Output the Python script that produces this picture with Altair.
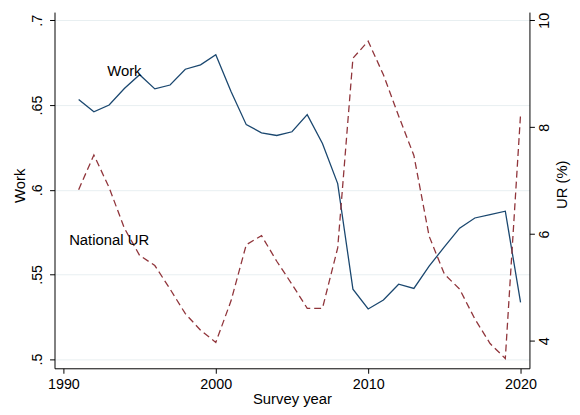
import pandas as pd
import altair as alt

# survey years and the two series
years = list(range(1991, 2021))
work = [0.6533, 0.6460, 0.6500, 0.6597, 0.6679, 0.6595, 0.6618, 0.6711, 0.6737, 0.6797,
        0.6580, 0.6384, 0.6336, 0.6320, 0.6342, 0.6443, 0.6273, 0.6036, 0.5413, 0.5296,
        0.5349, 0.5442, 0.5417, 0.5549, 0.5662, 0.5773, 0.5833, 0.5853, 0.5873, 0.5335]
ur = [6.83, 7.48, 6.87, 6.11, 5.60, 5.41, 4.97, 4.51, 4.20, 3.97,
      4.75, 5.80, 5.97, 5.49, 5.06, 4.61, 4.61, 5.74, 9.29, 9.61,
      8.98, 8.21, 7.47, 5.96, 5.25, 4.97, 4.41, 3.95, 3.67, 8.24]

# in-plot labels (left-axis coordinates)
label_text = ['Work', 'National UR']
label_x = [1994, 1993]
label_y = [0.67, 0.57]

work_ticks = [0.5, 0.55, 0.6, 0.65, 0.7]
ur_ticks = [4, 6, 8, 10]
year_ticks = [1990, 2000, 2010, 2020]

df = pd.DataFrame({'year': years, 'work': work, 'ur': ur})
labels = pd.DataFrame({'year': label_x, 'work': label_y, 'label': label_text})

NAVY = '#1a476f'
MAROON = '#90353b'
FONT = 'Liberation Sans'

x_enc = alt.X(
    'year:Q',
    scale=alt.Scale(domain=[1989.416, 2020.584], nice=False, zero=False),
    axis=alt.Axis(
        values=year_ticks, format='d', title='Survey year', grid=False,
        labelAngle=0, labelFlush=False, labelPadding=11.5,
        labelBaseline='middle', titleX=240, titleY=31, titleBaseline='middle',
    ),
)

work_domain = [0.49457, 0.70485]

work_line = (
    alt.Chart(df)
    .mark_line(color=NAVY, strokeWidth=1.3)
    .encode(
        x=x_enc,
        y=alt.Y(
            'work:Q', scale=alt.Scale(domain=work_domain, nice=False, zero=False),
            axis=alt.Axis(
                values=work_ticks, title='Work', orient='left',
                labelExpr="substring(format(datum.value, '.2~f'), 1)",
                labelAngle=270, labelAlign='center', labelBaseline='middle',
                labelPadding=12, grid=True, gridColor='#e8eff1', gridWidth=1,
                titleAngle=270, titleX=-35.5, titleY=175,
                titleAlign='center', titleBaseline='middle',
            ),
        ),
    )
)

ur_line = (
    alt.Chart(df)
    .mark_line(color=MAROON, strokeWidth=1.3, strokeDash=[7, 4])
    .encode(
        x=x_enc,
        y=alt.Y(
            'ur:Q',
            scale=alt.Scale(domain=[3.487, 10.154], nice=False, zero=False),
            axis=alt.Axis(
                values=ur_ticks, format='d', title='UR (%)', orient='right',
                labelAngle=270, labelAlign='center', labelBaseline='middle',
                labelPadding=10.3, grid=False,
                titleAngle=270, titleX=32.5, titleY=174,
                titleAlign='center', titleBaseline='middle',
            ),
        ),
    )
)

text_layer = (
    alt.Chart(labels)
    .mark_text(font=FONT, fontSize=15, color='black', align='center', baseline='middle')
    .encode(
        x='year:Q',
        y=alt.Y('work:Q', scale=alt.Scale(domain=work_domain, nice=False, zero=False),
                axis=None),
        text='label:N',
    )
)

chart = (
    alt.layer(work_line, ur_line, text_layer)
    .resolve_scale(y='independent')
    .properties(
        width=480, height=360,
        autosize=alt.AutoSizeParams(type='none'),
        padding={'left': 47, 'top': 2, 'right': 43, 'bottom': 38},
    )
    .configure(font=FONT)
    .configure_view(strokeWidth=0)
    .configure_axis(
        domainColor='black', domainWidth=1, tickColor='black', tickSize=5,
        labelColor='black', titleColor='black', labelFontSize=14.5,
        titleFontSize=15, titleFontWeight='normal', labelFont=FONT, titleFont=FONT,
    )
)

chart.save('out.html', embed_options={'renderer': 'svg', 'actions': False})
